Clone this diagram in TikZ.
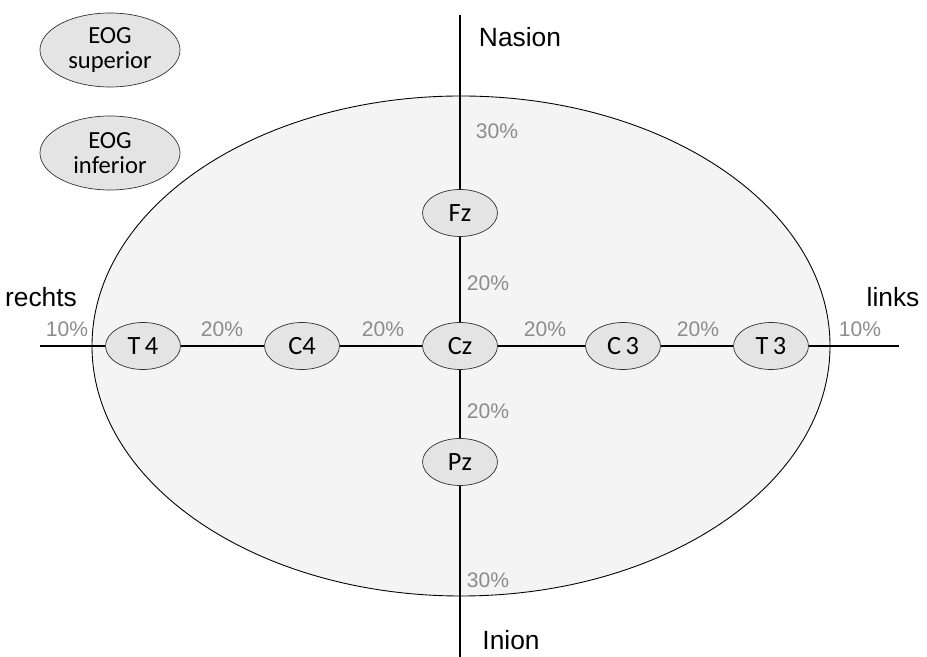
\documentclass[tikz,border=0pt]{standalone}
\usepackage{fontspec}
\usetikzlibrary{shapes.geometric}
\setmainfont{Carlito}
\newfontfamily\arialfont{Liberation Sans}
\definecolor{headgray}{HTML}{F4F4F4}
\definecolor{nodegray}{HTML}{E4E4E4}
\definecolor{pctgray}{HTML}{8C8C8C}
\tikzset{
    electrode/.style={draw=black!80, ellipse, fill=nodegray, minimum width=1.5cm, minimum height=0.94cm, inner sep=0pt, font=\fontsize{15}{15}\selectfont},
    eog/.style={draw=black!80, ellipse, fill=nodegray, minimum width=2.8cm, minimum height=1.48cm, inner sep=0pt, align=center, font=\fontsize{14}{14}\selectfont},
    pct/.style={text=pctgray, font=\arialfont\fontsize{12}{12}\selectfont},
    side/.style={font=\arialfont\fontsize{15}{15}\selectfont},
    axis/.style={line width=1.2pt}
}
\begin{document}
\begin{tikzpicture}
    \useasboundingbox (0,0) rectangle (18.54,13.14);

        % Head outline
        \draw[fill=headgray, line width=0.5pt] (9.22,6.22) ellipse (7.38 and 5.0);

        % Free ends of the two axes
        \coordinate (top) at (9.2,12.84);
        \coordinate (bottom) at (9.2,0);
        \coordinate (left) at (0.8,6.22);
        \coordinate (right) at (17.98,6.22);

        % Electrodes on the midline (top to bottom)
        \node[electrode] (Fz) at (9.2,8.88) {Fz};
        \node[electrode] (Cz) at (9.2,6.22) {Cz};
        \node[electrode] (Pz) at (9.2,3.9) {Pz};

        % Electrodes on the transverse line (right to left)
        \node[electrode] (T4) at (2.86,6.22) {T\,4};
        \node[electrode] (C4) at (6.04,6.22) {C4};
        \node[electrode] (C3) at (12.46,6.22) {C\,3};
        \node[electrode] (T3) at (15.42,6.22) {T\,3};

        % EOG electrodes
        \node[eog] (EOGsup) at (2.2,12.14) {EOG\\superior};
        \node[eog] (EOGinf) at (2.2,10.08) {EOG\\inferior};

        % Draw the midline
        \draw[axis] (top) -- (Fz);
        \draw[axis] (Fz) -- (Cz);
        \draw[axis] (Cz) -- (Pz);
        \draw[axis] (Pz) -- (bottom);

        % Draw the transverse line
        \draw[axis] (left) -- (T4);
        \draw[axis] (T4) -- (C4);
        \draw[axis] (C4) -- (Cz);
        \draw[axis] (Cz) -- (C3);
        \draw[axis] (C3) -- (T3);
        \draw[axis] (T3) -- (right);

        % Directions
        \node[side] (nasion) at (10.4,12.4) {Nasion};
        \node[side] (inion) at (10.22,0.34) {Inion};
        \node[side] (rechts) at (0.82,7.2) {rechts};
        \node[side] (links) at (17.86,7.2) {links};

        % Distances
        \node[pct] (p1) at (9.94,10.52) {30\%};
        \node[pct] (p2) at (9.76,7.48) {20\%};
        \node[pct] (p3) at (9.76,4.92) {20\%};
        \node[pct] (p4) at (9.76,1.54) {30\%};
        \node[pct] (p5) at (1.34,6.56) {10\%};
        \node[pct] (p6) at (4.44,6.56) {20\%};
        \node[pct] (p7) at (7.66,6.56) {20\%};
        \node[pct] (p8) at (10.9,6.56) {20\%};
        \node[pct] (p9) at (13.96,6.56) {20\%};
        \node[pct] (p10) at (17.2,6.56) {10\%};

    \end{tikzpicture}
\end{document}
